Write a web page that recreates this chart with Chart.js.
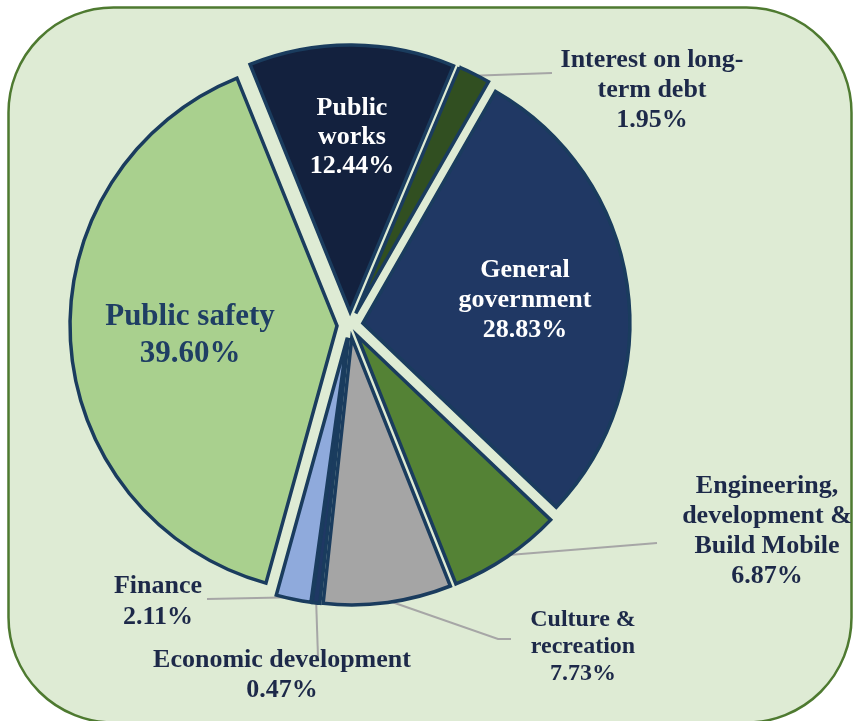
<!DOCTYPE html>
<html>
<head>
    <title>Expenditures by Function</title>
    <script src="https://cdn.jsdelivr.net/npm/chart.js"></script>
    <style>
        html, body {
            margin: 0;
            padding: 0;
            background: #ffffff;
        }
        .chart-container {
            width: 853px;
            height: 721px;
        }
    </style>
</head>
<body>
    <div class="chart-container">
        <canvas id="spendChart" width="853" height="721"></canvas>
    </div>

    <script>
        // Spending by function, share of total (%)
        const categories = [
            'Public works',
            'Interest on long-term debt',
            'General government',
            'Engineering, development & Build Mobile',
            'Culture & recreation',
            'Economic development',
            'Finance',
            'Public safety'
        ];
        const shares = [12.44, 1.95, 28.83, 6.87, 7.73, 0.47, 2.11, 39.60];
        const sliceColors = ['#13213e', '#314f21', '#203864', '#548235', '#a5a5a5', '#1f3864', '#8faadc', '#a9d08e'];

        // how each category name is broken over lines in its data label
        const labelLines = [
            ['Public', 'works'],
            ['Interest on long-', 'term debt'],
            ['General', 'government'],
            ['Engineering,', 'development &', 'Build Mobile'],
            ['Culture &', 'recreation'],
            ['Economic development'],
            ['Finance'],
            ['Public safety']
        ];

        const EXPLODE = 13;      // px each slice is pushed out from the centre
        const PIE_RADIUS = 267;
        const NAVY = '#1d2949';

        // label placement: centre x, first baseline, line height, font size, colour, leader end points
        const labelLayout = [
            { x: 352, y: 115, lh: 29, size: 26, color: '#ffffff' },
            { x: 652, y: 67, lh: 30, size: 26, color: NAVY, leader: [[552, 73]] },
            { x: 525, y: 277, lh: 30, size: 26, color: '#ffffff' },
            { x: 767, y: 493, lh: 30, size: 26, color: NAVY, leader: [[645, 544], [657, 543]] },
            { x: 583, y: 626, lh: 27, size: 24, color: NAVY, leader: [[498, 639], [511, 639]] },
            { x: 282, y: 667, lh: 30, size: 26, color: NAVY, leader: [[318, 657]] },
            { x: 158, y: 593, lh: 31, size: 26, color: NAVY, leader: [[207, 599]] },
            { x: 190, y: 325, lh: 37, size: 31, color: '#1f3e64' }
        ];

        // arc that is drawn shifted outward along its bisector by EXPLODE px
        class ExplodedArc extends Chart.ArcElement {
            draw(ctx) {
                const mid = (this.startAngle + this.endAngle) / 2;
                ctx.save();
                ctx.translate(Math.cos(mid) * EXPLODE, Math.sin(mid) * EXPLODE);
                super.draw(ctx);
                ctx.restore();
            }
        }
        ExplodedArc.id = 'explodedArc';

        class ExplodedPieController extends Chart.PieController {}
        ExplodedPieController.id = 'explodedPie';
        ExplodedPieController.defaults = { dataElementType: 'explodedArc' };

        Chart.register(ExplodedArc, ExplodedPieController);

        // rounded green panel behind the pie
        const backdrop = {
            id: 'backdrop',
            beforeDraw(chart) {
                const ctx = chart.ctx;
                const x = 8.5, y = 7.5, w = 843, h = 715, r = 105;
                ctx.save();
                ctx.beginPath();
                ctx.moveTo(x + r, y);
                ctx.arcTo(x + w, y, x + w, y + h, r);
                ctx.arcTo(x + w, y + h, x, y + h, r);
                ctx.arcTo(x, y + h, x, y, r);
                ctx.arcTo(x, y, x + w, y, r);
                ctx.closePath();
                ctx.fillStyle = '#deebd4';
                ctx.fill();
                ctx.lineWidth = 2.5;
                ctx.strokeStyle = '#4e7a30';
                ctx.stroke();
                ctx.restore();
            }
        };

        // leader lines from the outer edge of a slice to its label
        const leaders = {
            id: 'leaders',
            beforeDatasetsDraw(chart) {
                const ctx = chart.ctx;
                const arcs = chart.getDatasetMeta(0).data;
                ctx.save();
                ctx.strokeStyle = '#a6a6a6';
                ctx.lineWidth = 2;
                arcs.forEach((arc, i) => {
                    const lay = labelLayout[i];
                    if (!lay.leader) return;
                    const mid = (arc.startAngle + arc.endAngle) / 2;
                    const r = arc.outerRadius + EXPLODE - 2;
                    ctx.beginPath();
                    ctx.moveTo(arc.x + Math.cos(mid) * r, arc.y + Math.sin(mid) * r);
                    lay.leader.forEach(p => ctx.lineTo(p[0], p[1]));
                    ctx.stroke();
                });
                ctx.restore();
            }
        };

        const dataLabels = {
            id: 'dataLabels',
            afterDatasetsDraw(chart) {
                const ctx = chart.ctx;
                ctx.save();
                ctx.textAlign = 'center';
                ctx.textBaseline = 'alphabetic';
                shares.forEach((v, i) => {
                    const lay = labelLayout[i];
                    const lines = labelLines[i].concat(v.toFixed(2) + '%');
                    ctx.font = 'bold ' + lay.size + 'px "Liberation Serif", "Times New Roman", serif';
                    ctx.fillStyle = lay.color;
                    lines.forEach((t, k) => ctx.fillText(t, lay.x, lay.y + k * lay.lh));
                });
                ctx.restore();
            }
        };

        const ctx = document.getElementById('spendChart').getContext('2d');
        const chart = new Chart(ctx, {
            type: 'explodedPie',
            data: {
                labels: categories,
                datasets: [{
                    data: shares,
                    backgroundColor: sliceColors,
                    borderColor: '#1a3c5e',
                    borderWidth: 3.5,
                    borderJoinStyle: 'miter'
                }]
            },
            options: {
                responsive: false,
                animation: false,
                rotation: -22,
                radius: PIE_RADIUS,
                layout: {
                    padding: { left: 0, right: 153, top: 0, bottom: 71 }
                },
                plugins: {
                    legend: { display: false },
                    tooltip: { enabled: false }
                }
            },
            plugins: [backdrop, leaders, dataLabels]
        });
    </script>
</body>
</html>
